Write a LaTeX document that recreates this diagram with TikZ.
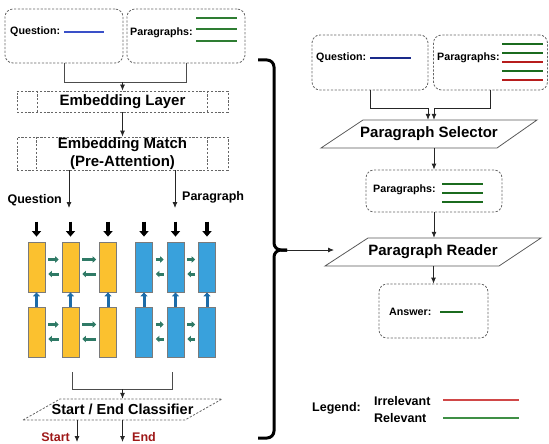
\documentclass[tikz,border=0pt]{standalone}
\usepackage{fontspec}
\setmainfont{Liberation Sans}
\usetikzlibrary{arrows.meta}
\definecolor{cellY}{HTML}{FBC12F}
\definecolor{cellB}{HTML}{39A1DC}
\definecolor{cellE}{HTML}{7A7A7A}
\definecolor{garr}{HTML}{2F7A66}
\definecolor{barr}{HTML}{1C6BA8}
\definecolor{qblue}{HTML}{3A50C8}
\definecolor{qnavy}{HTML}{1A2A8A}
\definecolor{pgreen}{HTML}{2E7D32}
\definecolor{dgreen}{HTML}{1B6B1E}
\definecolor{dred}{HTML}{B71C1C}
\definecolor{lred}{HTML}{D04848}
\definecolor{lgreen}{HTML}{3F8F45}
\definecolor{sered}{HTML}{9E1818}
\definecolor{dashc}{HTML}{666666}
\tikzset{
  dbox/.style={draw=dashc, dash pattern=on 2.2pt off 1.6pt, line width=0.8pt, rounded corners=8pt, inner sep=0pt},
  drect/.style={draw=dashc, dash pattern=on 2.2pt off 1.6pt, line width=0.8pt, inner sep=0pt},
  dline/.style={draw=dashc, dash pattern=on 2.2pt off 1.6pt, line width=0.8pt},
  paral/.style={draw=black!65, line width=0.8pt},
  small/.style={font=\bfseries\fontsize{10.7}{12}\selectfont, inner sep=0pt},
  big/.style={font=\bfseries\fontsize{15}{18}\selectfont, inner sep=0pt, align=center},
  lbl/.style={font=\bfseries\fontsize{12.5}{14}\selectfont, inner sep=0pt},
  redlbl/.style={lbl, text=sered},
  conn/.style={draw=black!70, line width=0.8pt},
  arr/.style={draw=black!85, line width=0.8pt, -{Latex[length=6pt,width=5pt]}},
  ycell/.style={fill=cellY, draw=cellE, line width=0.8pt, minimum width=17pt, minimum height=50pt, inner sep=0pt},
  bcell/.style={fill=cellB, draw=cellE, line width=0.8pt, minimum width=17pt, minimum height=50pt, inner sep=0pt},
  blkarr/.style={draw=black, line width=3.5pt, -{Triangle[length=5.5pt,width=9pt]}},
  uparr/.style={draw=barr, line width=3pt, -{Triangle[length=4pt,width=7pt]}},
  garrow/.style={draw=garr, line width=3pt, shorten <=3pt, shorten >=3pt, -{Triangle[length=3.5pt,width=6.5pt]}},
  tline/.style={line width=1.6pt},
}
\begin{document}
\begin{tikzpicture}[x=1pt,y=-1pt]
\useasboundingbox (0,0) rectangle (549,444);

% ---------- left: inputs ----------
\node[dbox, minimum width=118pt, minimum height=54pt] (q1) at (64,36) {};
\node[dbox, minimum width=118pt, minimum height=54pt] (p1) at (186,36) {};
\node[small, anchor=west] (q1t) at (10,32) {Question:};
\draw[tline, qblue] (64,32) -- (104,32);
\node[small, anchor=west] (p1t) at (130,33) {Paragraphs:};
\foreach \yy in {18,29,41} \draw[tline, pgreen] (196,\yy) -- (237,\yy);

\coordinate (j1) at (122.5,82);
\draw[conn] (q1.south) -- ++(0,19) -| (p1.south);

\node[drect, minimum width=211pt, minimum height=21pt, big] (emb) at (122.5,101.5) {Embedding Layer};
\draw[dline] ([xshift=21pt]emb.north west) -- ([xshift=21pt]emb.south west);
\draw[dline] ([xshift=-21pt]emb.north east) -- ([xshift=-21pt]emb.south east);
\draw[arr] (j1) -- (emb.north);

\node[drect, minimum width=211pt, minimum height=33pt, big] (match) at (122.5,153.5) {Embedding Match\\(Pre-Attention)};
\draw[dline] ([xshift=20pt]match.north west) -- ([xshift=20pt]match.south west);
\draw[dline] ([xshift=-21pt]match.north east) -- ([xshift=-21pt]match.south east);
\draw[arr] (emb.south) -- (match.north);

\coordinate (qa) at (69,208);
\coordinate (pa) at (175,208);
\draw[arr] (qa |- match.south) -- (qa);
\draw[arr] (pa |- match.south) -- (pa);
\node[lbl, anchor=east] (qlbl) at (62,200) {Question};
\node[lbl, anchor=west] (plbl) at (182,197) {Paragraph};

% ---------- cells ----------
\node[ycell] (y1) at (36.5,267) {};
\node[ycell] (y2) at (70.5,267) {};
\node[ycell] (y3) at (108,267) {};
\node[bcell] (b1) at (144,267) {};
\node[bcell] (b2) at (175.5,267) {};
\node[bcell] (b3) at (207,267) {};
\node[ycell] (y4) at (36.5,332) {};
\node[ycell] (y5) at (70.5,332) {};
\node[ycell] (y6) at (108,332) {};
\node[bcell] (b4) at (144,332) {};
\node[bcell] (b5) at (175.5,332) {};
\node[bcell] (b6) at (207,332) {};

\foreach \c in {y1,y2,y3,b1,b2,b3} \draw[blkarr] ([yshift=20pt]\c.north) -- ([yshift=5pt]\c.north);
\foreach \lo/\hi in {y4/y1,y5/y2,y6/y3,b4/b1,b5/b2,b6/b3} \draw[uparr] (\lo.north) -- (\hi.south);
\foreach \a/\b in {y1/y2,y2/y3,b1/b2,b2/b3,y4/y5,y5/y6,b4/b5,b5/b6} {
  \draw[garrow] ([yshift=7.5pt]\a.east) -- ([yshift=7.5pt]\b.west);
  \draw[garrow] ([yshift=-7pt]\b.west) -- ([yshift=-7pt]\a.east);
}

% ---------- classifier ----------
\coordinate (yl) at (72,372);
\coordinate (bl) at (172,372);
\coordinate (j2) at (122.5,389);
\draw[conn] (yl) -- ++(0,17) -| (bl);
\node[big, font=\bfseries\fontsize{14.5}{17}\selectfont, minimum height=21pt] (cls) at (122.5,409.5) {Start / End Classifier};
\draw[dline] (23,420) -- (60,399) -- (222,399) -- (185,420) -- cycle;
\draw[arr] (j2) -- (cls.north);
\coordinate (so) at (77,442);
\coordinate (eo) at (122.5,442);
\draw[arr] (so |- cls.south) -- (so);
\draw[arr] (cls.south) -- (eo);
\node[redlbl, anchor=east] (st) at (70,437) {Start};
\node[redlbl, anchor=west] (en) at (132,437) {End};

% ---------- brace ----------
\draw[line width=3pt, rounded corners=7pt] (258,60) -- (274,60) -- (274,250) -- (287,250);
\draw[line width=3pt, rounded corners=7pt] (287,250) -- (274,250) -- (274,438) -- (258,438);
\coordinate (btip) at (287,250);
\coordinate (rin) at (334,250);
\draw[arr] (btip) -- (rin);

% ---------- right ----------
\node[dbox, minimum width=116pt, minimum height=55pt] (q2) at (370,62.5) {};
\node[dbox, minimum width=114pt, minimum height=55pt] (p2) at (490.5,62.5) {};
\node[small, anchor=west] (q2t) at (316,58) {Question:};
\draw[tline, qnavy] (370,58) -- (411,58);
\node[small, anchor=west] (p2t) at (437,58) {Paragraphs:};
\draw[tline, dgreen] (502,44) -- (543,44);
\draw[tline, dgreen] (502,53) -- (543,53);
\draw[tline, dred] (502,62) -- (543,62);
\draw[tline, dgreen] (502,71) -- (543,71);
\draw[tline, dred] (502,80) -- (543,80);

\node[big, minimum height=28pt] (sel) at (429,134) {Paragraph Selector};
\draw[paral] (321,148) -- (363,120) -- (537,120) -- (497,148) -- cycle;
\draw[arr] (q2.south) -- ++(0,18) -| ([xshift=-1pt]sel.north);
\draw[arr] (p2.south) -- ++(0,18) -| ([xshift=5pt]sel.north);

\node[dbox, minimum width=136pt, minimum height=42pt] (pp) at (434,191) {};
\node[small, anchor=west] (ppt) at (373,190) {Paragraphs:};
\foreach \yy in {184,193,202} \draw[tline, dgreen] (442,\yy) -- (483,\yy);
\draw[arr] (pp.north |- sel.south) -- (pp.north);

\node[big, minimum height=28pt] (rdr) at (433,252) {Paragraph Reader};
\draw[paral] (325,266) -- (368,238) -- (541,238) -- (499,266) -- cycle;
\draw[arr] (pp.south) -- (pp.south |- rdr.north);

\node[dbox, minimum width=109pt, minimum height=54pt] (ans) at (433.5,311) {};
\node[small, anchor=west] (anst) at (389,312) {Answer:};
\draw[tline, dgreen] (440,312) -- (463,312);
\draw[arr] (ans.north |- rdr.south) -- (ans.north);

% ---------- legend ----------
\node[lbl, anchor=west] (leg) at (312,408) {Legend:};
\node[lbl, anchor=west] (irr) at (374,401) {Irrelevant};
\node[lbl, anchor=west] (rel) at (374,418) {Relevant};
\draw[line width=2.4pt, lred] (443,400) -- (519,400);
\draw[line width=2.4pt, lgreen] (443,418) -- (519,418);
\end{tikzpicture}
\end{document}
